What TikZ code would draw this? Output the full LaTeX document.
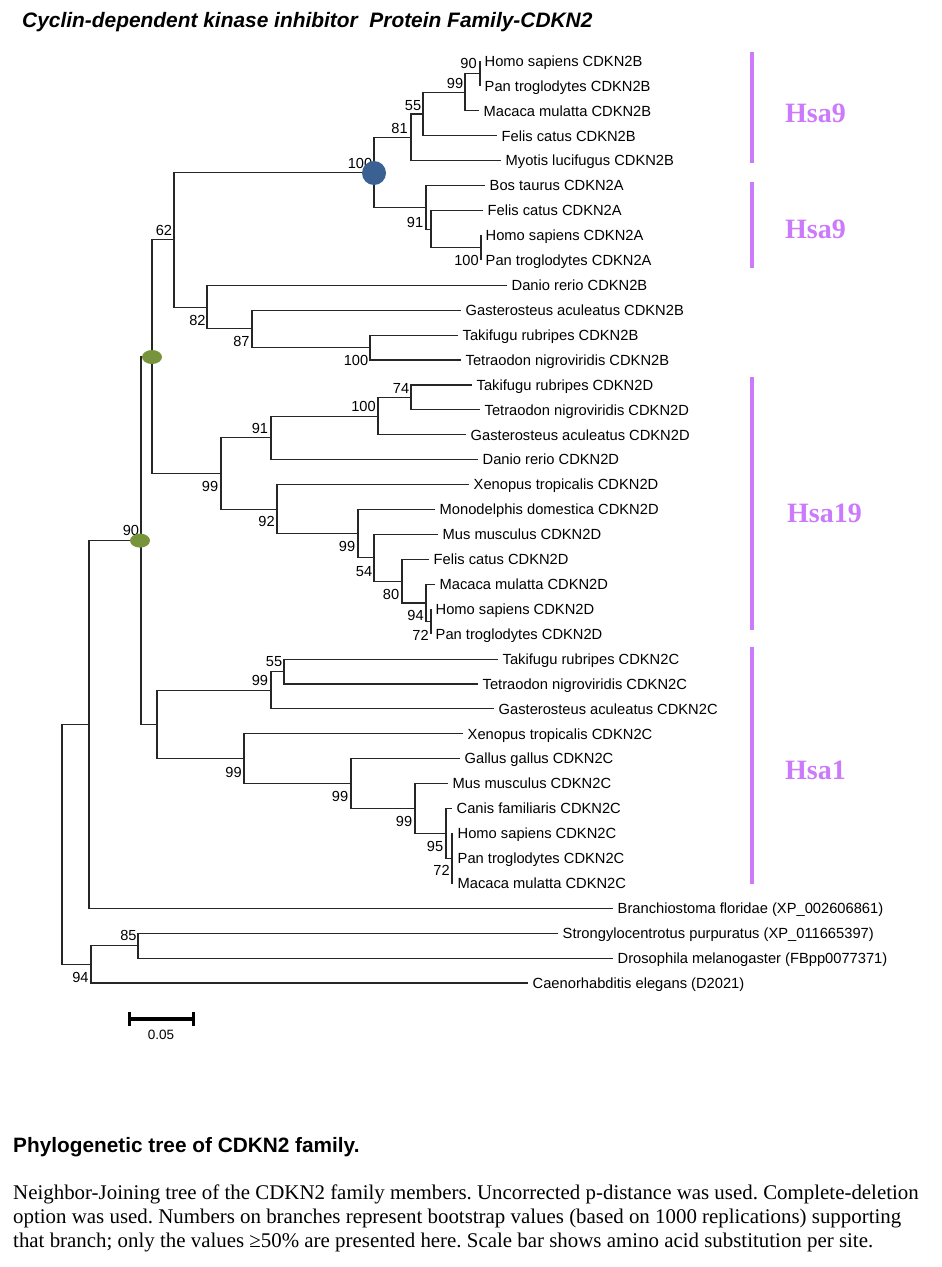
\documentclass[tikz,border=0pt]{standalone}
\usepackage{fontspec}
\setmainfont{Liberation Sans}
\newfontfamily\tnr{Liberation Serif}
\usetikzlibrary{shapes.geometric}
\definecolor{hsa}{RGB}{204,122,252}
\definecolor{nodegreen}{RGB}{119,147,60}
\definecolor{nodeblue}{RGB}{59,97,147}
\frenchspacing
\tikzset{
  br/.style={line width=1.1pt, black!85},
  leaf/.style={anchor=west, inner xsep=4.5pt, inner ysep=0pt, font=\fontsize{14.7}{16}\selectfont, text height=10.5pt, text depth=0pt},
  bs/.style={inner sep=0pt, font=\fontsize{14.6}{16}\selectfont, text height=10.5pt, text depth=0pt},
  hsabar/.style={hsa, line width=3.5pt},
  hsalbl/.style={anchor=west, inner sep=0pt, text=hsa, font=\tnr\bfseries\fontsize{28}{30}\selectfont, text height=18.5pt, text depth=0pt},
  gdot/.style={ellipse, fill=nodegreen, minimum width=20pt, minimum height=14pt, inner sep=0pt},
  bdot/.style={circle, fill=nodeblue, minimum size=24pt, inner sep=0pt},
  para/.style={anchor=west, inner sep=0pt, font=\tnr\fontsize{20.9}{23}\selectfont, text height=13.8pt, text depth=0pt},
}
\begin{document}
\begin{tikzpicture}[x=1pt,y=-1pt]
\fill[white] (0,0) rectangle (942,1267);
\useasboundingbox (0,0) rectangle (942,1267);

% title
\node[anchor=west, inner sep=0pt, font=\bfseries\itshape\fontsize{20.9}{22}\selectfont, text height=15pt, text depth=0pt] (title) at (22,20) {Cyclin-dependent kinase inhibitor\ \ Protein Family-CDKN2};

% leaves
\node[leaf] (L1) at (480,61) {Homo sapiens CDKN2B};
\node[leaf] (L2) at (480,85.9) {Pan troglodytes CDKN2B};
\node[leaf] (L3) at (479,110.8) {Macaca mulatta CDKN2B};
\node[leaf] (L4) at (497,135.8) {Felis catus CDKN2B};
\node[leaf] (L5) at (501,160.7) {Myotis lucifugus CDKN2B};
\node[leaf] (L6) at (485,185.6) {Bos taurus CDKN2A};
\node[leaf] (L7) at (483,210.5) {Felis catus CDKN2A};
\node[leaf] (L8) at (481,235.4) {Homo sapiens CDKN2A};
\node[leaf] (L9) at (481,260.4) {Pan troglodytes CDKN2A};
\node[leaf] (L10) at (507,285.3) {Danio rerio CDKN2B};
\node[leaf] (L11) at (461,310.2) {Gasterosteus aculeatus CDKN2B};
\node[leaf] (L12) at (458,335.1) {Takifugu rubripes CDKN2B};
\node[leaf] (L13) at (461,360) {Tetraodon nigroviridis CDKN2B};
\node[leaf] (L14) at (472,385) {Takifugu rubripes CDKN2D};
\node[leaf] (L15) at (480,409.9) {Tetraodon nigroviridis CDKN2D};
\node[leaf] (L16) at (466,434.8) {Gasterosteus aculeatus CDKN2D};
\node[leaf] (L17) at (478,459.7) {Danio rerio CDKN2D};
\node[leaf] (L18) at (469,484.6) {Xenopus tropicalis CDKN2D};
\node[leaf] (L19) at (435,509.6) {Monodelphis domestica CDKN2D};
\node[leaf] (L20) at (438,534.5) {Mus musculus CDKN2D};
\node[leaf] (L21) at (429,559.4) {Felis catus CDKN2D};
\node[leaf] (L22) at (435,584.3) {Macaca mulatta CDKN2D};
\node[leaf] (L23) at (431,609.2) {Homo sapiens CDKN2D};
\node[leaf] (L24) at (431,634.1) {Pan troglodytes CDKN2D};
\node[leaf] (L25) at (498,659.1) {Takifugu rubripes CDKN2C};
\node[leaf] (L26) at (478,684) {Tetraodon nigroviridis CDKN2C};
\node[leaf] (L27) at (494,708.9) {Gasterosteus aculeatus CDKN2C};
\node[leaf] (L28) at (463,733.8) {Xenopus tropicalis CDKN2C};
\node[leaf] (L29) at (460,758.7) {Gallus gallus CDKN2C};
\node[leaf] (L30) at (448,783.7) {Mus musculus CDKN2C};
\node[leaf] (L31) at (452,808.6) {Canis familiaris CDKN2C};
\node[leaf] (L32) at (453,833.5) {Homo sapiens CDKN2C};
\node[leaf] (L33) at (453,858.4) {Pan troglodytes CDKN2C};
\node[leaf] (L34) at (453,883.3) {Macaca mulatta CDKN2C};
\node[leaf] (L35) at (613,908.2) {Branchiostoma floridae (XP\_002606861)};
\node[leaf] (L36) at (558,933.2) {Strongylocentrotus purpuratus (XP\_011665397)};
\node[leaf] (L37) at (613,958.1) {Drosophila melanogaster (FBpp0077371)};
\node[leaf] (L38) at (528,983) {Caenorhabditis elegans (D2021)};

% internal nodes
\coordinate (n90a) at (480,73.5);
\coordinate (n99a) at (465,92.1);
\coordinate (n55a) at (423,114);
\coordinate (n81) at (411,137.3);
\coordinate (nXb) at (481,247.9);
\coordinate (nX) at (431,229.2);
\coordinate (n91a) at (426,207.4);
\coordinate (nBlue) at (374,172.4);
\coordinate (n100c) at (370,347.6);
\coordinate (n87) at (252,328.9);
\coordinate (n82) at (207,307.1);
\coordinate (n62) at (174,239.8);
\coordinate (n74) at (411,397.5);
\coordinate (n100d) at (378,416.1);
\coordinate (n91b) at (271,437.9);
\coordinate (n72a) at (431,621.7);
\coordinate (n94a) at (426,603);
\coordinate (n80) at (402,581.2);
\coordinate (n54) at (374,557.9);
\coordinate (n99b) at (358,533.7);
\coordinate (n92) at (277,509.2);
\coordinate (n99c) at (221,473.5);
\coordinate (gUp) at (152,356.7);
\coordinate (n55b) at (284,671.5);
\coordinate (n99d) at (271,690.2);
\coordinate (n72b) at (452,858.4);
\coordinate (n95) at (446,833.5);
\coordinate (n99e) at (415,808.6);
\coordinate (n99f) at (351,783.7);
\coordinate (n99g) at (244,758.7);
\coordinate (nC) at (157,724.5);
\coordinate (gLow) at (141,540.6);
\coordinate (nB) at (89,724.4);
\coordinate (n85) at (138,945.6);
\coordinate (n94b) at (91,964.3);
\coordinate (root) at (62,844.4);

% branches
\draw[br] (n90a) |- (L1.west);
\draw[br] (n90a) |- (L2.west);
\draw[br] (n99a) |- (n90a);
\draw[br] (n99a) |- (L3.west);
\draw[br] (n55a) |- (n99a);
\draw[br] (n55a) |- (L4.west);
\draw[br] (n81) |- (n55a);
\draw[br] (n81) |- (L5.west);
\draw[br] (nBlue) |- (n81);
\draw[br] (nBlue) |- (n91a);
\draw[br] (n91a) |- (L6.west);
\draw[br] (n91a) |- (nX);
\draw[br] (nX) |- (L7.west);
\draw[br] (nX) |- (nXb);
\draw[br] (nXb) |- (L8.west);
\draw[br] (nXb) |- (L9.west);
\draw[br] (n62) |- (nBlue);
\draw[br] (n62) |- (n82);
\draw[br] (n82) |- (L10.west);
\draw[br] (n82) |- (n87);
\draw[br] (n87) |- (L11.west);
\draw[br] (n87) |- (n100c);
\draw[br] (n100c) |- (L12.west);
\draw[br] (n100c) |- (L13.west);
\draw[br] (gUp) |- (n62);
\draw[br] (gUp) |- (n99c);
\draw[br] (n99c) |- (n91b);
\draw[br] (n99c) |- (n92);
\draw[br] (n91b) |- (n100d);
\draw[br] (n91b) |- (L17.west);
\draw[br] (n100d) |- (n74);
\draw[br] (n100d) |- (L16.west);
\draw[br] (n74) |- (L14.west);
\draw[br] (n74) |- (L15.west);
\draw[br] (n92) |- (L18.west);
\draw[br] (n92) |- (n99b);
\draw[br] (n99b) |- (L19.west);
\draw[br] (n99b) |- (n54);
\draw[br] (n54) |- (L20.west);
\draw[br] (n54) |- (n80);
\draw[br] (n80) |- (L21.west);
\draw[br] (n80) |- (n94a);
\draw[br] (n94a) |- (L22.west);
\draw[br] (n94a) |- (n72a);
\draw[br] (n72a) |- (L23.west);
\draw[br] (n72a) |- (L24.west);
\draw[br] (gLow) |- (gUp);
\draw[br] (gLow) |- (nC);
\draw[br] (nC) |- (n99d);
\draw[br] (nC) |- (n99g);
\draw[br] (n99d) |- (n55b);
\draw[br] (n99d) |- (L27.west);
\draw[br] (n55b) |- (L25.west);
\draw[br] (n55b) |- (L26.west);
\draw[br] (n99g) |- (L28.west);
\draw[br] (n99g) |- (n99f);
\draw[br] (n99f) |- (L29.west);
\draw[br] (n99f) |- (n99e);
\draw[br] (n99e) |- (L30.west);
\draw[br] (n99e) |- (n95);
\draw[br] (n95) |- (L31.west);
\draw[br] (n95) |- (n72b);
\draw[br] (n72b) |- (L32.west);
\draw[br] (n72b) |- (L33.west);
\draw[br] (n72b) |- (L34.west);
\draw[br] (nB) |- (gLow);
\draw[br] (nB) |- (L35.west);
\draw[br] (root) |- (nB);
\draw[br] (root) |- (n94b);
\draw[br] (n94b) |- (n85);
\draw[br] (n94b) |- (L38.west);
\draw[br] (n85) |- (L36.west);
\draw[br] (n85) |- (L37.west);

% bootstrap values
\node[bs] (b1) at (468.5,63.5) {90};
\node[bs] (b2) at (455,83) {99};
\node[bs] (b3) at (413,105.5) {55};
\node[bs] (b4) at (399.5,128) {81};
\node[bs] (b5) at (360,163) {100};
\node[bs] (b6) at (415,222) {91};
\node[bs] (b7) at (466.5,260.5) {100};
\node[bs] (b8) at (164,230) {62};
\node[bs] (b9) at (197.5,320.7) {82};
\node[bs] (b10) at (241.5,341.7) {87};
\node[bs] (b11) at (356,360.7) {100};
\node[bs] (b12) at (401,388.3) {74};
\node[bs] (b13) at (363.5,406) {100};
\node[bs] (b14) at (260,428.3) {91};
\node[bs] (b15) at (210,486.7) {99};
\node[bs] (b16) at (266.5,521.7) {92};
\node[bs] (b17) at (131,530) {90};
\node[bs] (b18) at (347,546.7) {99};
\node[bs] (b19) at (364,571) {54};
\node[bs] (b20) at (391,594.3) {80};
\node[bs] (b21) at (415.5,615.7) {94};
\node[bs] (b22) at (420.5,635) {72};
\node[bs] (b23) at (274,661.7) {55};
\node[bs] (b24) at (260,680) {99};
\node[bs] (b25) at (233.5,772.3) {99};
\node[bs] (b26) at (340,796) {99};
\node[bs] (b27) at (404,821) {99};
\node[bs] (b28) at (435,846.7) {95};
\node[bs] (b29) at (441.5,870) {72};
\node[bs] (b30) at (128.5,935) {85};
\node[bs] (b31) at (80.5,977.7) {94};

% marked nodes
\node[bdot] (blue) at (374,173) {};
\node[gdot] (green1) at (152,357) {};
\node[gdot] (green2) at (140,540.6) {};

% chromosome bars
\draw[hsabar] (752,52) -- (752,163);
\draw[hsabar] (752,182) -- (752,268);
\draw[hsabar] (752,377) -- (752,630);
\draw[hsabar] (752,647) -- (752,884);
\node[hsalbl] (h1) at (785,113) {Hsa9};
\node[hsalbl] (h2) at (785,229) {Hsa9};
\node[hsalbl] (h3) at (787,513) {Hsa19};
\node[hsalbl] (h4) at (785,770) {Hsa1};

% scale bar
\draw[line width=3.5pt] (129,1019) -- (193,1019);
\draw[line width=3pt] (129,1012) -- (129,1026);
\draw[line width=3pt] (193,1012) -- (193,1026);
\node[bs, font=\fontsize{13.5}{15}\selectfont, text height=9.7pt] (scl) at (161,1035) {0.05};

% caption
\node[anchor=west, inner sep=0pt, font=\bfseries\fontsize{20.8}{22}\selectfont, text height=14.9pt, text depth=0pt] (cap) at (13,1145) {Phylogenetic tree of CDKN2 family.};
\node[para] (p1) at (13,1193) {Neighbor-Joining tree of the CDKN2 family members. Uncorrected p-distance was used. Complete-deletion};
\node[para] (p2) at (13,1217) {option was used. Numbers on branches represent bootstrap values (based on 1000 replications) supporting};
\node[para] (p3) at (13,1241) {that branch; only the values ≥50\% are presented here. Scale bar shows amino acid substitution per site.};
\end{tikzpicture}
\end{document}
